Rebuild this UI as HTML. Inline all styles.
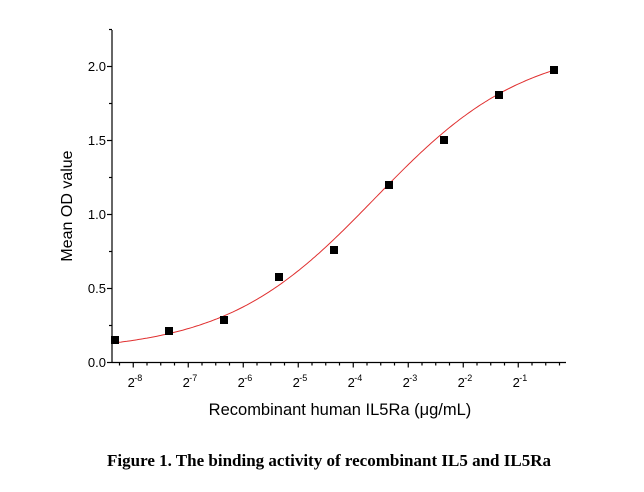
<!DOCTYPE html>
<html><head><meta charset="utf-8"><style>
html,body{margin:0;padding:0;background:#fff;}
svg{display:block}
</style></head><body>
<svg id="s" width="644" height="492" xmlns="http://www.w3.org/2000/svg" font-family="Liberation Sans, sans-serif">
<rect width="644" height="492" fill="#fff"/>
<g stroke="#000" stroke-width="1.2" fill="none">
<line x1="112" y1="30" x2="112" y2="362.5"/>
<line x1="112" y1="362.5" x2="566" y2="362.5"/>
</g>
<g id="ticks" stroke="#000" stroke-width="1.2"></g>
<path id="curve" fill="none" stroke="#e03030" stroke-width="1"/>
<g id="pts" fill="#000"></g>
<g font-size="13" fill="#000" text-anchor="end">
<text x="106" y="71">2.0</text>
<text x="106" y="145">1.5</text>
<text x="106" y="219">1.0</text>
<text x="106" y="293">0.5</text>
<text x="106" y="367">0.0</text>
</g>
<g id="xl" font-size="13" fill="#000" text-anchor="middle"></g>
<text x="340" y="415" font-size="16.5" text-anchor="middle">Recombinant human IL5Ra (μg/mL)</text>
<text transform="translate(72,206) rotate(-90)" font-size="16" text-anchor="middle">Mean OD value</text>
<text x="329" y="466" font-size="17" font-weight="bold" font-family="Liberation Serif, serif" text-anchor="middle">Figure 1. The binding activity of recombinant IL5 and IL5Ra</text>
</svg>
<script>
var NS="http://www.w3.org/2000/svg";
function el(t,a,p){var e=document.createElementNS(NS,t);for(var k in a)e.setAttribute(k,a[k]);document.getElementById(p).appendChild(e);return e;}
for(var i=0;i<=9;i++){var y=362.5-i*37;var len=(i%2==0)?5:3;el('line',{x1:112-len,y1:y,x2:112,y2:y},'ticks');}
for(var i=0;i<33;i++){var x=119.5+i*13.75;var major=((i-1)%4==0);el('line',{x1:x,y1:362.5,x2:x,y2:362.5+(major?5:3)},'ticks');}
for(var k=0;k<8;k++){var x=133.25+k*55;var t=el('text',{x:x-2,y:387},'xl');t.textContent='2';var s=el('text',{x:x+5,y:381,'font-size':'9'},'xl');s.textContent='-'+(8-k);}
function f(x){return 0.07+2.08/(1+Math.exp(-(x-375)/75));}
var d='';for(var x=113;x<=556;x+=2){var y=362.5-f(x)*148;d+=(d?'L':'M')+x+','+y.toFixed(1);}
document.getElementById('curve').setAttribute('d',d);
var P=[[115,340],[169,331],[224,320],[279,277],[334,250],[389,185],[444,140],[499,95],[554,70]];
P.forEach(function(p){el('rect',{x:p[0]-4,y:p[1]-4,width:8,height:8},'pts');});
</script>
</body></html>
